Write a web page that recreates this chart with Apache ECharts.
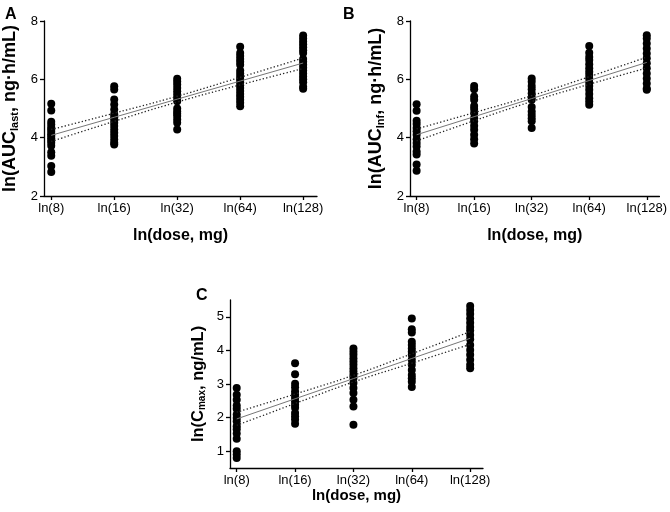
<!DOCTYPE html>
<html>
<head>
<meta charset="utf-8">
<script src="https://cdn.jsdelivr.net/npm/echarts@6/dist/echarts.min.js"></script>
<style>
html,body{margin:0;padding:0;background:#fff;}
#main{width:670px;height:512px;}
</style>
</head>
<body>
<div id="main"></div>
<script>
// Dose categories (x positions are log2 steps: ln(8), ln(16), ...)
var doseLabels = ['ln(8)', 'ln(16)', 'ln(32)', 'ln(64)', 'ln(128)'];
var dosePos = [0, 1, 2, 3, 4];

// Panel A: ln(AUClast) per dose group
var aucLast8   = [5.16, 4.93, 4.55, 4.45, 4.35, 4.28, 4.2, 4.12, 4.06, 3.98, 3.9, 3.83, 3.72, 3.5, 3.38, 3.03, 2.82];
var aucLast16  = [5.76, 5.65, 5.31, 5.14, 4.97, 4.8, 4.7, 4.62, 4.51, 4.4, 4.28, 4.17, 4.06, 3.94, 3.83, 3.77];
var aucLast32  = [6.02, 5.93, 5.82, 5.7, 5.59, 5.48, 5.36, 5.25, 5.0, 4.9, 4.82, 4.74, 4.62, 4.51, 4.28];
var aucLast64  = [7.12, 6.9, 6.8, 6.7, 6.6, 6.5, 6.3, 6.2, 6.1, 6.0, 5.9, 5.8, 5.7, 5.6, 5.5, 5.4, 5.3, 5.2, 5.08];
var aucLast128 = [7.5, 7.4, 7.3, 7.2, 7.1, 7.0, 6.9, 6.7, 6.6, 6.5, 6.4, 6.3, 6.2, 6.1, 6.0, 5.9, 5.75, 5.68];
var aucLastFit   = [4.08, 4.70, 5.32, 5.94, 6.56];
var aucLastUpper = [4.28, 4.84, 5.42, 6.07, 6.73];
var aucLastLower = [3.87, 4.56, 5.22, 5.81, 6.37];

// Panel B: ln(AUCinf) per dose group
var aucInf8   = [5.15, 4.92, 4.58, 4.47, 4.33, 4.22, 4.10, 3.95, 3.82, 3.70, 3.53, 3.42, 3.08, 2.87];
var aucInf16  = [5.77, 5.66, 5.41, 5.30, 5.09, 4.98, 4.84, 4.67, 4.56, 4.41, 4.27, 4.10, 3.95, 3.80];
var aucInf32  = [6.03, 5.92, 5.77, 5.66, 5.52, 5.39, 5.30, 5.05, 4.90, 4.78, 4.67, 4.56, 4.33];
var aucInf64  = [7.14, 6.91, 6.77, 6.66, 6.52, 6.38, 6.26, 6.15, 6.03, 5.89, 5.77, 5.64, 5.50, 5.35, 5.24, 5.13];
var aucInf128 = [7.51, 7.40, 7.23, 7.06, 6.89, 6.72, 6.55, 6.38, 6.20, 6.03, 5.86, 5.69, 5.64];
var aucInfFit   = [4.10, 4.72, 5.34, 5.96, 6.58];
var aucInfUpper = [4.30, 4.86, 5.44, 6.09, 6.76];
var aucInfLower = [3.89, 4.58, 5.24, 5.83, 6.39];

// Panel C: ln(Cmax) per dose group
var cmax8   = [2.88, 2.68, 2.53, 2.36, 2.26, 2.09, 1.99, 1.89, 1.74, 1.65, 1.53, 1.37, 1.0, 0.90, 0.80];
var cmax16  = [3.62, 3.29, 3.01, 2.90, 2.78, 2.68, 2.58, 2.48, 2.38, 2.29, 2.14, 2.04, 1.94, 1.82];
var cmax32  = [4.06, 3.96, 3.87, 3.77, 3.67, 3.57, 3.47, 3.37, 3.27, 3.18, 3.03, 2.88, 2.73, 2.53, 2.33, 1.79];
var cmax64  = [4.95, 4.63, 4.53, 4.26, 4.16, 4.06, 3.96, 3.87, 3.72, 3.57, 3.42, 3.27, 3.17, 3.07, 2.91];
var cmax128 = [5.32, 5.20, 5.08, 4.95, 4.82, 4.70, 4.59, 4.46, 4.33, 4.16, 4.01, 3.87, 3.72, 3.57, 3.47];
var cmaxFit   = [1.96, 2.56, 3.16, 3.76, 4.36];
var cmaxUpper = [2.16, 2.70, 3.26, 3.90, 4.56];
var cmaxLower = [1.77, 2.42, 3.06, 3.62, 4.18];

var yTicksAUC = [2, 4, 6, 8];
var yTicksCmax = [1, 2, 3, 4, 5];

function pts(groups) {
  var out = [];
  groups.forEach(function (g, i) {
    g.forEach(function (v) { out.push([dosePos[i], v]); });
  });
  return out;
}
function line(vals) {
  return vals.map(function (v, i) { return [dosePos[i], v]; });
}

var FONT = '"Liberation Sans", Arial, sans-serif';

function xAxisCfg(idx, gap, fs) {
  return {
    gridIndex: idx, type: 'value', min: -0.115, max: 4.22,
    name: 'ln(dose, mg)', nameLocation: 'middle', nameGap: gap,
    nameTextStyle: { fontFamily: FONT, fontWeight: 'bold', fontSize: fs, color: '#000' },
    splitLine: { show: false },
    axisLine: { onZero: false, lineStyle: { color: '#000', width: 1.3 } },
    axisTick: { show: true, length: 4, customValues: dosePos, lineStyle: { color: '#000', width: 1.3 } },
    axisLabel: {
      customValues: dosePos, margin: 6, fontFamily: FONT, fontSize: 13, color: '#000',
      formatter: function (v) { return doseLabels[Math.round(v)]; }
    }
  };
}
function yAxisCfg(idx, min, max, ticks, sub, rest, gap, fs, sfs) {
  return {
    gridIndex: idx, type: 'value', min: min, max: max,
    name: '{m|ln(' + (sub === 'max' ? 'C' : 'AUC') + '}{s|' + sub + '}{m|' + rest + '}',
    nameLocation: 'middle', nameGap: gap, nameRotate: 90,
    nameTextStyle: {
      rich: {
        m: { fontFamily: FONT, fontWeight: 'bold', fontSize: fs, color: '#000' },
        s: { fontFamily: FONT, fontWeight: 'bold', fontSize: sfs, color: '#000', verticalAlign: 'bottom', padding: [Math.round(fs * 0.5), 0, 0, 0] }
      }
    },
    splitLine: { show: false },
    axisLine: { onZero: false, lineStyle: { color: '#000', width: 1.3 } },
    axisTick: { show: true, length: 4, customValues: ticks, lineStyle: { color: '#000', width: 1.3 } },
    axisLabel: { customValues: ticks, margin: 6, fontFamily: FONT, fontSize: 13, color: '#000' }
  };
}
function panelSeries(idx, groups, fit, upper, lower) {
  return [
    { type: 'scatter', xAxisIndex: idx, yAxisIndex: idx, data: pts(groups), symbol: 'circle', symbolSize: 8,
      itemStyle: { color: '#000', opacity: 1 }, silent: true, z: 3 },
    { type: 'line', xAxisIndex: idx, yAxisIndex: idx, data: line(fit), symbol: 'none', smooth: false,
      lineStyle: { color: '#777', width: 1 }, silent: true, z: 4 },
    { type: 'line', xAxisIndex: idx, yAxisIndex: idx, data: line(upper), symbol: 'none', smooth: true,
      lineStyle: { color: '#222', width: 1.3, type: [1.3, 2.2] }, silent: true, z: 4 },
    { type: 'line', xAxisIndex: idx, yAxisIndex: idx, data: line(lower), symbol: 'none', smooth: true,
      lineStyle: { color: '#222', width: 1.3, type: [1.3, 2.2] }, silent: true, z: 4 }
  ];
}

var chart = echarts.init(document.getElementById('main'), null, { renderer: 'canvas' });
chart.setOption({
  backgroundColor: '#fff',
  animation: false,
  title: [
    { text: 'A', left: 0, top: 2, textStyle: { fontFamily: FONT, fontWeight: 'bold', fontSize: 16, color: '#000' } },
    { text: 'B', left: 338, top: 2, textStyle: { fontFamily: FONT, fontWeight: 'bold', fontSize: 16, color: '#000' } },
    { text: 'C', left: 191, top: 283, textStyle: { fontFamily: FONT, fontWeight: 'bold', fontSize: 16, color: '#000' } }
  ],
  grid: [
    { left: 42, top: 21, width: 275, height: 175 },
    { left: 410, top: 21, width: 253, height: 175 },
    { left: 230, top: 300, width: 253, height: 168 }
  ],
  xAxis: [xAxisCfg(0, 32, 16), xAxisCfg(1, 32, 16), xAxisCfg(2, 19, 15)],
  yAxis: [
    yAxisCfg(0, 2, 8, yTicksAUC, 'last', ', ng\u00b7h/mL)', 24, 18, 11),
    yAxisCfg(1, 2, 8, yTicksAUC, 'Inf', ', ng\u00b7h/mL)', 24, 18, 11),
    yAxisCfg(2, 0.5, 5.5, yTicksCmax, 'max', ', ng/mL)', 23, 16.5, 10)
  ],
  series: [].concat(
    panelSeries(0, [aucLast8, aucLast16, aucLast32, aucLast64, aucLast128], aucLastFit, aucLastUpper, aucLastLower),
    panelSeries(1, [aucInf8, aucInf16, aucInf32, aucInf64, aucInf128], aucInfFit, aucInfUpper, aucInfLower),
    panelSeries(2, [cmax8, cmax16, cmax32, cmax64, cmax128], cmaxFit, cmaxUpper, cmaxLower)
  )
});
</script>
</body>
</html>
